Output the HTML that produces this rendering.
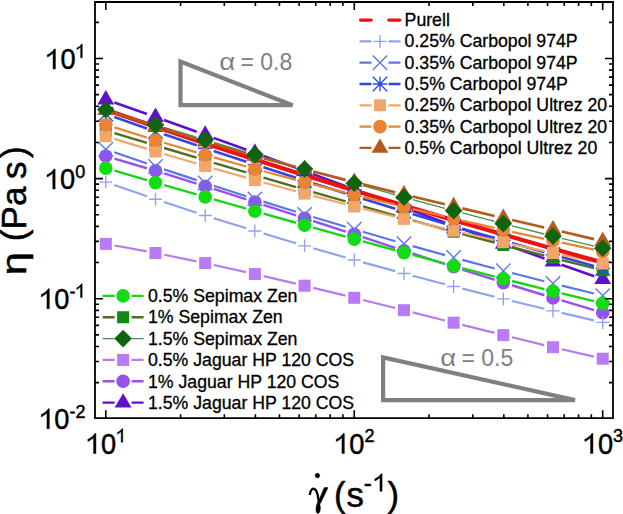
<!DOCTYPE html>
<html><head><meta charset="utf-8"><style>
html,body{margin:0;padding:0;background:#fff;}
body{width:623px;height:514px;overflow:hidden;}
svg{display:block;}
text{font-family:"Liberation Sans", sans-serif;}
</style></head><body>
<svg width="623" height="514" viewBox="0 0 623 514">
<rect width="623" height="514" fill="#fff"/>
<g font-size="17.7" fill="#000">
<path d="M360.50 20.10H371.20M388.70 20.10H399.80" stroke="#ee1111" stroke-width="3.2" stroke-linecap="round"/><text x="404.60" y="25.60" stroke="#000" stroke-width="0.3">Purell</text>
<path d="M359.50 41.40H371.50M388.50 41.40H400.50" stroke="#8ea2f0" stroke-width="2.2"/><path d="M373.50 41.40H386.50M380.00 34.90V47.90" stroke="#8ea2f0" stroke-width="1.35" fill="none"/><text x="404.60" y="47.05" stroke="#000" stroke-width="0.3">0.25% Carbopol 974P</text>
<path d="M359.50 62.70H371.50M388.50 62.70H400.50" stroke="#5a76ea" stroke-width="2.2"/><path d="M372.80 55.50L387.20 69.90M372.80 69.90L387.20 55.50" stroke="#5a76ea" stroke-width="1.35" fill="none"/><text x="404.60" y="68.50" stroke="#000" stroke-width="0.3">0.35% Carbopol 974P</text>
<path d="M359.50 84.00H371.50M388.50 84.00H400.50" stroke="#2e48e0" stroke-width="2.4"/><path d="M372.80 76.80L387.20 91.20M372.80 91.20L387.20 76.80M380.00 76.80V91.20M372.80 84.00H387.20" stroke="#2e48e0" stroke-width="1.35" fill="none"/><circle cx="380.00" cy="84.00" r="2" fill="#2e48e0"/><text x="404.60" y="89.95" stroke="#000" stroke-width="0.3">0.5% Carbopol 974P</text>
<path d="M359.50 105.30H371.50M388.50 105.30H400.50" stroke="#f2a66c" stroke-width="2.2"/><rect x="374.00" y="99.30" width="12.00" height="12.00" fill="#f2a66c"/><text x="404.60" y="111.40" stroke="#000" stroke-width="0.3">0.25% Carbopol Ultrez 20</text>
<path d="M359.50 126.60H371.50M388.50 126.60H400.50" stroke="#ea8434" stroke-width="2.2"/><circle cx="380.00" cy="126.60" r="6.80" fill="#ea8434"/><text x="404.60" y="132.85" stroke="#000" stroke-width="0.3">0.35% Carbopol Ultrez 20</text>
<path d="M359.50 147.90H371.50M388.50 147.90H400.50" stroke="#b45a1c" stroke-width="2.4"/><path d="M380.00 138.40L388.40 152.80L371.60 152.80Z" fill="#b45a1c"/><text x="404.60" y="154.30" stroke="#000" stroke-width="0.3">0.5% Carbopol Ultrez 20</text>
<path d="M102.60 295.90H114.60M131.60 295.90H143.60" stroke="#18d418" stroke-width="2.4"/><circle cx="123.10" cy="295.90" r="6.80" fill="#12dd12"/><text x="148.00" y="301.90" stroke="#000" stroke-width="0.3">0.5% Sepimax Zen</text>
<path d="M102.60 317.25H114.60M131.60 317.25H143.60" stroke="#4f6e1e" stroke-width="2.4"/><rect x="117.10" y="311.25" width="12.00" height="12.00" fill="#118a11"/><text x="148.00" y="323.32" stroke="#000" stroke-width="0.3">1% Sepimax Zen</text>
<path d="M102.60 338.60H114.60M131.60 338.60H143.60" stroke="#4a904a" stroke-width="1.3"/><path d="M123.10 329.80L131.90 338.60L123.10 347.40L114.30 338.60Z" fill="#0f640f"/><text x="148.00" y="344.74" stroke="#000" stroke-width="0.3">1.5% Sepimax Zen</text>
<path d="M102.60 359.95H114.60M131.60 359.95H143.60" stroke="#b87af0" stroke-width="2.2"/><rect x="117.10" y="353.95" width="12.00" height="12.00" fill="#b97af6"/><text x="148.00" y="366.16" stroke="#000" stroke-width="0.3">0.5% Jaguar HP 120 COS</text>
<path d="M102.60 381.30H114.60M131.60 381.30H143.60" stroke="#9652ea" stroke-width="2.4"/><circle cx="123.10" cy="381.30" r="6.80" fill="#9652ec"/><text x="148.00" y="387.58" stroke="#000" stroke-width="0.3">1% Jaguar HP 120 COS</text>
<path d="M102.60 402.65H114.60M131.60 402.65H143.60" stroke="#5f0fca" stroke-width="2.4"/><path d="M123.10 393.15L131.50 407.55L114.70 407.55Z" fill="#6010cc"/><text x="148.00" y="409.00" stroke="#000" stroke-width="0.3">1.5% Jaguar HP 120 COS</text>
</g>
<g>
<path d="M114.65 245.52L146.64 251.38M164.31 254.79L196.36 261.31M213.97 265.03L246.08 272.07M263.63 276.06L295.80 283.64M313.30 287.83L345.51 295.67M362.98 299.98L395.21 308.02M412.67 312.40L444.90 320.50M462.36 324.88L494.59 332.92M512.06 337.23L544.27 345.07M561.78 349.23L593.93 356.67" stroke="#b87af0" stroke-width="2.2" fill="none"/>
<path d="M114.43 158.57L146.86 168.23M164.09 173.46L196.58 183.54M213.76 188.93L246.29 199.27M263.43 204.79L296.00 215.41M313.12 220.99L345.69 231.61M362.80 237.21L395.39 247.89M412.50 253.47L445.07 264.03M462.21 269.53L494.74 279.87M511.92 285.25L544.41 295.25M561.64 300.47L594.07 310.13" stroke="#9652ea" stroke-width="2.4" fill="none"/>
<path d="M114.29 102.49L147.00 114.01M163.96 120.04L196.71 131.76M213.64 137.87L246.41 149.73M263.32 155.90L296.11 167.90M313.01 174.11L345.80 186.19M362.70 192.40L395.49 204.40M412.39 210.61L445.18 222.69M462.09 228.87L494.86 240.73M511.79 246.85L544.54 258.65M561.50 264.69L594.21 276.21" stroke="#5f0fca" stroke-width="2.6" fill="none"/>
<path d="M114.31 185.03L146.98 196.27M164.04 202.01L196.63 212.69M213.77 218.18L246.28 228.32M263.50 233.57L295.93 243.23M313.21 248.27L345.60 257.53M362.94 262.36L395.25 271.14M412.65 275.78L444.92 284.22M462.36 288.68L494.59 296.72M512.07 301.01L544.26 308.79M561.78 312.93L593.93 320.37" stroke="#8ea2f0" stroke-width="2.2" fill="none"/>
<path d="M114.31 152.33L146.98 163.57M164.03 169.34L196.64 180.16M213.75 185.76L246.30 196.24M263.47 201.66L295.96 211.74M313.18 216.99L345.63 226.71M362.89 231.81L395.30 241.19M412.61 246.11L444.96 255.09M462.32 259.83L494.63 268.47M512.04 273.03L544.29 281.27M561.75 285.63L593.96 293.47" stroke="#5a76ea" stroke-width="2.2" fill="none"/>
<path d="M114.44 170.62L146.85 180.08M164.14 185.09L196.53 194.41M213.83 199.39L246.22 208.71M263.53 213.64L295.90 222.76M313.23 227.62L345.58 236.68M362.94 241.46L395.25 250.24M412.63 254.93L444.94 263.57M462.34 268.16L494.61 276.54M512.05 281.00L544.28 289.10M561.76 293.41L593.95 301.19" stroke="#18d418" stroke-width="2.4" fill="none"/>
<path d="M114.42 133.09L146.87 142.81M164.11 147.99L196.56 157.71M213.81 162.85L246.24 172.45M263.50 177.54L295.93 187.06M313.21 192.09L345.60 201.41M362.91 206.36L395.28 215.54M412.62 220.39L444.95 229.31M462.32 234.03L494.63 242.67M512.03 247.26L544.30 255.64M561.75 260.06L593.96 268.04" stroke="#4f6e1e" stroke-width="2.4" fill="none"/>
<path d="M114.41 112.42L146.88 122.28M164.11 127.49L196.56 137.21M213.81 142.37L246.24 152.03M263.51 157.12L295.92 166.58M313.21 171.57L345.60 180.83M362.92 185.72L395.27 194.78M412.63 199.56L444.94 208.34M462.34 212.98L494.61 221.42M512.05 225.90L544.28 234.00M561.76 238.31L593.95 246.09" stroke="#4a904a" stroke-width="1.3" fill="none"/>
<path d="M114.30 117.06L146.99 128.44M164.02 134.28L196.65 145.32M213.73 151.02L246.32 161.78M263.44 167.36L295.99 177.84M313.15 183.30L345.66 193.50M362.86 198.83L395.33 208.77M412.57 213.97L445.00 223.63M462.27 228.71L494.68 238.09M511.98 243.06L544.35 252.24M561.69 257.08L594.02 265.92" stroke="#2e48e0" stroke-width="2.6" fill="none"/>
<path d="M114.40 138.85L146.89 148.85M164.12 154.04L196.55 163.56M213.84 168.54L246.21 177.66M263.56 182.46L295.87 191.24M313.27 195.86L345.54 204.24M362.98 208.68L395.21 216.72M412.70 220.98L444.87 228.62M462.40 232.71L494.55 240.09M512.11 244.03L544.22 251.07M561.82 254.86L593.89 261.64" stroke="#f2a66c" stroke-width="2.2" fill="none"/>
<path d="M105.80 109.80 L155.49 126.80 L205.18 143.40 L254.87 159.50 L304.56 175.30 L354.25 190.60 L403.94 205.60 L453.63 220.30 L503.32 234.60 L553.01 248.70 L602.70 262.50" stroke="#ee1111" stroke-width="4.2" fill="none" stroke-linejoin="round"/>
<path d="M114.39 127.38L146.90 137.52M164.12 142.75L196.55 152.35M213.84 157.34L246.21 166.46M263.56 171.23L295.87 179.87M313.28 184.41L345.53 192.59M362.99 196.93L395.20 204.77M412.70 208.96L444.87 216.54M462.41 220.60L494.54 227.90M512.11 231.83L544.22 238.87M561.81 242.69L593.90 249.61" stroke="#ea8434" stroke-width="2.2" fill="none"/>
<path d="M114.35 112.72L146.94 123.48M164.09 128.95L196.58 138.95M213.83 144.09L246.22 153.41M263.56 158.24L295.87 166.96M313.28 171.55L345.53 179.85M362.99 184.26L395.20 192.24M412.69 196.50L444.88 204.20M462.39 208.36L494.56 215.94M512.09 220.03L544.24 227.47M561.77 231.56L593.94 239.14" stroke="#b45a1c" stroke-width="2.6" fill="none"/>
<rect x="99.80" y="237.90" width="12.00" height="12.00" fill="#b97af6"/>
<rect x="149.49" y="247.00" width="12.00" height="12.00" fill="#b97af6"/>
<rect x="199.18" y="257.10" width="12.00" height="12.00" fill="#b97af6"/>
<rect x="248.87" y="268.00" width="12.00" height="12.00" fill="#b97af6"/>
<rect x="298.56" y="279.70" width="12.00" height="12.00" fill="#b97af6"/>
<rect x="348.25" y="291.80" width="12.00" height="12.00" fill="#b97af6"/>
<rect x="397.94" y="304.20" width="12.00" height="12.00" fill="#b97af6"/>
<rect x="447.63" y="316.70" width="12.00" height="12.00" fill="#b97af6"/>
<rect x="497.32" y="329.10" width="12.00" height="12.00" fill="#b97af6"/>
<rect x="547.01" y="341.20" width="12.00" height="12.00" fill="#b97af6"/>
<rect x="596.70" y="352.70" width="12.00" height="12.00" fill="#b97af6"/>
<circle cx="105.80" cy="156.00" r="6.80" fill="#9652ec"/>
<circle cx="155.49" cy="170.80" r="6.80" fill="#9652ec"/>
<circle cx="205.18" cy="186.20" r="6.80" fill="#9652ec"/>
<circle cx="254.87" cy="202.00" r="6.80" fill="#9652ec"/>
<circle cx="304.56" cy="218.20" r="6.80" fill="#9652ec"/>
<circle cx="354.25" cy="234.40" r="6.80" fill="#9652ec"/>
<circle cx="403.94" cy="250.70" r="6.80" fill="#9652ec"/>
<circle cx="453.63" cy="266.80" r="6.80" fill="#9652ec"/>
<circle cx="503.32" cy="282.60" r="6.80" fill="#9652ec"/>
<circle cx="553.01" cy="297.90" r="6.80" fill="#9652ec"/>
<circle cx="602.70" cy="312.70" r="6.80" fill="#9652ec"/>
<path d="M105.80 90.00L114.20 104.40L97.40 104.40Z" fill="#6010cc"/>
<path d="M155.49 107.50L163.89 121.90L147.09 121.90Z" fill="#6010cc"/>
<path d="M205.18 125.30L213.58 139.70L196.78 139.70Z" fill="#6010cc"/>
<path d="M254.87 143.30L263.27 157.70L246.47 157.70Z" fill="#6010cc"/>
<path d="M304.56 161.50L312.96 175.90L296.16 175.90Z" fill="#6010cc"/>
<path d="M354.25 179.80L362.65 194.20L345.85 194.20Z" fill="#6010cc"/>
<path d="M403.94 198.00L412.34 212.40L395.54 212.40Z" fill="#6010cc"/>
<path d="M453.63 216.30L462.03 230.70L445.23 230.70Z" fill="#6010cc"/>
<path d="M503.32 234.30L511.72 248.70L494.92 248.70Z" fill="#6010cc"/>
<path d="M553.01 252.20L561.41 266.60L544.61 266.60Z" fill="#6010cc"/>
<path d="M602.70 269.70L611.10 284.10L594.30 284.10Z" fill="#6010cc"/>
<path d="M99.30 182.10H112.30M105.80 175.60V188.60" stroke="#8ea2f0" stroke-width="1.35" fill="none"/>
<path d="M148.99 199.20H161.99M155.49 192.70V205.70" stroke="#8ea2f0" stroke-width="1.35" fill="none"/>
<path d="M198.68 215.50H211.68M205.18 209.00V222.00" stroke="#8ea2f0" stroke-width="1.35" fill="none"/>
<path d="M248.37 231.00H261.37M254.87 224.50V237.50" stroke="#8ea2f0" stroke-width="1.35" fill="none"/>
<path d="M298.06 245.80H311.06M304.56 239.30V252.30" stroke="#8ea2f0" stroke-width="1.35" fill="none"/>
<path d="M347.75 260.00H360.75M354.25 253.50V266.50" stroke="#8ea2f0" stroke-width="1.35" fill="none"/>
<path d="M397.44 273.50H410.44M403.94 267.00V280.00" stroke="#8ea2f0" stroke-width="1.35" fill="none"/>
<path d="M447.13 286.50H460.13M453.63 280.00V293.00" stroke="#8ea2f0" stroke-width="1.35" fill="none"/>
<path d="M496.82 298.90H509.82M503.32 292.40V305.40" stroke="#8ea2f0" stroke-width="1.35" fill="none"/>
<path d="M546.51 310.90H559.51M553.01 304.40V317.40" stroke="#8ea2f0" stroke-width="1.35" fill="none"/>
<path d="M596.20 322.40H609.20M602.70 315.90V328.90" stroke="#8ea2f0" stroke-width="1.35" fill="none"/>
<path d="M98.60 142.20L113.00 156.60M98.60 156.60L113.00 142.20" stroke="#5a76ea" stroke-width="1.35" fill="none"/>
<path d="M148.29 159.30L162.69 173.70M148.29 173.70L162.69 159.30" stroke="#5a76ea" stroke-width="1.35" fill="none"/>
<path d="M197.98 175.80L212.38 190.20M197.98 190.20L212.38 175.80" stroke="#5a76ea" stroke-width="1.35" fill="none"/>
<path d="M247.67 191.80L262.07 206.20M247.67 206.20L262.07 191.80" stroke="#5a76ea" stroke-width="1.35" fill="none"/>
<path d="M297.36 207.20L311.76 221.60M297.36 221.60L311.76 207.20" stroke="#5a76ea" stroke-width="1.35" fill="none"/>
<path d="M347.05 222.10L361.45 236.50M347.05 236.50L361.45 222.10" stroke="#5a76ea" stroke-width="1.35" fill="none"/>
<path d="M396.74 236.50L411.14 250.90M396.74 250.90L411.14 236.50" stroke="#5a76ea" stroke-width="1.35" fill="none"/>
<path d="M446.43 250.30L460.83 264.70M446.43 264.70L460.83 250.30" stroke="#5a76ea" stroke-width="1.35" fill="none"/>
<path d="M496.12 263.60L510.52 278.00M496.12 278.00L510.52 263.60" stroke="#5a76ea" stroke-width="1.35" fill="none"/>
<path d="M545.81 276.30L560.21 290.70M545.81 290.70L560.21 276.30" stroke="#5a76ea" stroke-width="1.35" fill="none"/>
<path d="M595.50 288.40L609.90 302.80M595.50 302.80L609.90 288.40" stroke="#5a76ea" stroke-width="1.35" fill="none"/>
<circle cx="105.80" cy="168.10" r="6.80" fill="#12dd12"/>
<circle cx="155.49" cy="182.60" r="6.80" fill="#12dd12"/>
<circle cx="205.18" cy="196.90" r="6.80" fill="#12dd12"/>
<circle cx="254.87" cy="211.20" r="6.80" fill="#12dd12"/>
<circle cx="304.56" cy="225.20" r="6.80" fill="#12dd12"/>
<circle cx="354.25" cy="239.10" r="6.80" fill="#12dd12"/>
<circle cx="403.94" cy="252.60" r="6.80" fill="#12dd12"/>
<circle cx="453.63" cy="265.90" r="6.80" fill="#12dd12"/>
<circle cx="503.32" cy="278.80" r="6.80" fill="#12dd12"/>
<circle cx="553.01" cy="291.30" r="6.80" fill="#12dd12"/>
<circle cx="602.70" cy="303.30" r="6.80" fill="#12dd12"/>
<rect x="99.80" y="124.50" width="12.00" height="12.00" fill="#118a11"/>
<rect x="149.49" y="139.40" width="12.00" height="12.00" fill="#118a11"/>
<rect x="199.18" y="154.30" width="12.00" height="12.00" fill="#118a11"/>
<rect x="248.87" y="169.00" width="12.00" height="12.00" fill="#118a11"/>
<rect x="298.56" y="183.60" width="12.00" height="12.00" fill="#118a11"/>
<rect x="348.25" y="197.90" width="12.00" height="12.00" fill="#118a11"/>
<rect x="397.94" y="212.00" width="12.00" height="12.00" fill="#118a11"/>
<rect x="447.63" y="225.70" width="12.00" height="12.00" fill="#118a11"/>
<rect x="497.32" y="239.00" width="12.00" height="12.00" fill="#118a11"/>
<rect x="547.01" y="251.90" width="12.00" height="12.00" fill="#118a11"/>
<rect x="596.70" y="264.20" width="12.00" height="12.00" fill="#118a11"/>
<path d="M98.60 106.90L113.00 121.30M98.60 121.30L113.00 106.90M105.80 106.90V121.30M98.60 114.10H113.00" stroke="#2e48e0" stroke-width="1.35" fill="none"/><circle cx="105.80" cy="114.10" r="2" fill="#2e48e0"/>
<path d="M148.29 124.20L162.69 138.60M148.29 138.60L162.69 124.20M155.49 124.20V138.60M148.29 131.40H162.69" stroke="#2e48e0" stroke-width="1.35" fill="none"/><circle cx="155.49" cy="131.40" r="2" fill="#2e48e0"/>
<path d="M197.98 141.00L212.38 155.40M197.98 155.40L212.38 141.00M205.18 141.00V155.40M197.98 148.20H212.38" stroke="#2e48e0" stroke-width="1.35" fill="none"/><circle cx="205.18" cy="148.20" r="2" fill="#2e48e0"/>
<path d="M247.67 157.40L262.07 171.80M247.67 171.80L262.07 157.40M254.87 157.40V171.80M247.67 164.60H262.07" stroke="#2e48e0" stroke-width="1.35" fill="none"/><circle cx="254.87" cy="164.60" r="2" fill="#2e48e0"/>
<path d="M297.36 173.40L311.76 187.80M297.36 187.80L311.76 173.40M304.56 173.40V187.80M297.36 180.60H311.76" stroke="#2e48e0" stroke-width="1.35" fill="none"/><circle cx="304.56" cy="180.60" r="2" fill="#2e48e0"/>
<path d="M347.05 189.00L361.45 203.40M347.05 203.40L361.45 189.00M354.25 189.00V203.40M347.05 196.20H361.45" stroke="#2e48e0" stroke-width="1.35" fill="none"/><circle cx="354.25" cy="196.20" r="2" fill="#2e48e0"/>
<path d="M396.74 204.20L411.14 218.60M396.74 218.60L411.14 204.20M403.94 204.20V218.60M396.74 211.40H411.14" stroke="#2e48e0" stroke-width="1.35" fill="none"/><circle cx="403.94" cy="211.40" r="2" fill="#2e48e0"/>
<path d="M446.43 219.00L460.83 233.40M446.43 233.40L460.83 219.00M453.63 219.00V233.40M446.43 226.20H460.83" stroke="#2e48e0" stroke-width="1.35" fill="none"/><circle cx="453.63" cy="226.20" r="2" fill="#2e48e0"/>
<path d="M496.12 233.40L510.52 247.80M496.12 247.80L510.52 233.40M503.32 233.40V247.80M496.12 240.60H510.52" stroke="#2e48e0" stroke-width="1.35" fill="none"/><circle cx="503.32" cy="240.60" r="2" fill="#2e48e0"/>
<path d="M545.81 247.50L560.21 261.90M545.81 261.90L560.21 247.50M553.01 247.50V261.90M545.81 254.70H560.21" stroke="#2e48e0" stroke-width="1.35" fill="none"/><circle cx="553.01" cy="254.70" r="2" fill="#2e48e0"/>
<path d="M595.50 261.10L609.90 275.50M595.50 275.50L609.90 261.10M602.70 261.10V275.50M595.50 268.30H609.90" stroke="#2e48e0" stroke-width="1.35" fill="none"/><circle cx="602.70" cy="268.30" r="2" fill="#2e48e0"/>
<rect x="99.80" y="130.20" width="12.00" height="12.00" fill="#f2a66c"/>
<rect x="149.49" y="145.50" width="12.00" height="12.00" fill="#f2a66c"/>
<rect x="199.18" y="160.10" width="12.00" height="12.00" fill="#f2a66c"/>
<rect x="248.87" y="174.10" width="12.00" height="12.00" fill="#f2a66c"/>
<rect x="298.56" y="187.60" width="12.00" height="12.00" fill="#f2a66c"/>
<rect x="348.25" y="200.50" width="12.00" height="12.00" fill="#f2a66c"/>
<rect x="397.94" y="212.90" width="12.00" height="12.00" fill="#f2a66c"/>
<rect x="447.63" y="224.70" width="12.00" height="12.00" fill="#f2a66c"/>
<rect x="497.32" y="236.10" width="12.00" height="12.00" fill="#f2a66c"/>
<rect x="547.01" y="247.00" width="12.00" height="12.00" fill="#f2a66c"/>
<rect x="596.70" y="257.50" width="12.00" height="12.00" fill="#f2a66c"/>
<circle cx="105.80" cy="124.70" r="6.80" fill="#ea8434"/>
<circle cx="155.49" cy="140.20" r="6.80" fill="#ea8434"/>
<circle cx="205.18" cy="154.90" r="6.80" fill="#ea8434"/>
<circle cx="254.87" cy="168.90" r="6.80" fill="#ea8434"/>
<circle cx="304.56" cy="182.20" r="6.80" fill="#ea8434"/>
<circle cx="354.25" cy="194.80" r="6.80" fill="#ea8434"/>
<circle cx="403.94" cy="206.90" r="6.80" fill="#ea8434"/>
<circle cx="453.63" cy="218.60" r="6.80" fill="#ea8434"/>
<circle cx="503.32" cy="229.90" r="6.80" fill="#ea8434"/>
<circle cx="553.01" cy="240.80" r="6.80" fill="#ea8434"/>
<circle cx="602.70" cy="251.50" r="6.80" fill="#ea8434"/>
<path d="M105.80 100.40L114.20 114.80L97.40 114.80Z" fill="#b45a1c"/>
<path d="M155.49 116.80L163.89 131.20L147.09 131.20Z" fill="#b45a1c"/>
<path d="M205.18 132.10L213.58 146.50L196.78 146.50Z" fill="#b45a1c"/>
<path d="M254.87 146.40L263.27 160.80L246.47 160.80Z" fill="#b45a1c"/>
<path d="M304.56 159.80L312.96 174.20L296.16 174.20Z" fill="#b45a1c"/>
<path d="M354.25 172.60L362.65 187.00L345.85 187.00Z" fill="#b45a1c"/>
<path d="M403.94 184.90L412.34 199.30L395.54 199.30Z" fill="#b45a1c"/>
<path d="M453.63 196.80L462.03 211.20L445.23 211.20Z" fill="#b45a1c"/>
<path d="M503.32 208.50L511.72 222.90L494.92 222.90Z" fill="#b45a1c"/>
<path d="M553.01 220.00L561.41 234.40L544.61 234.40Z" fill="#b45a1c"/>
<path d="M602.70 231.70L611.10 246.10L594.30 246.10Z" fill="#b45a1c"/>
<path d="M105.80 101.00L114.60 109.80L105.80 118.60L97.00 109.80Z" fill="#0f640f"/>
<path d="M155.49 116.10L164.29 124.90L155.49 133.70L146.69 124.90Z" fill="#0f640f"/>
<path d="M205.18 131.00L213.98 139.80L205.18 148.60L196.38 139.80Z" fill="#0f640f"/>
<path d="M254.87 145.80L263.67 154.60L254.87 163.40L246.07 154.60Z" fill="#0f640f"/>
<path d="M304.56 160.30L313.36 169.10L304.56 177.90L295.76 169.10Z" fill="#0f640f"/>
<path d="M354.25 174.50L363.05 183.30L354.25 192.10L345.45 183.30Z" fill="#0f640f"/>
<path d="M403.94 188.40L412.74 197.20L403.94 206.00L395.14 197.20Z" fill="#0f640f"/>
<path d="M453.63 201.90L462.43 210.70L453.63 219.50L444.83 210.70Z" fill="#0f640f"/>
<path d="M503.32 214.90L512.12 223.70L503.32 232.50L494.52 223.70Z" fill="#0f640f"/>
<path d="M553.01 227.40L561.81 236.20L553.01 245.00L544.21 236.20Z" fill="#0f640f"/>
<path d="M602.70 239.40L611.50 248.20L602.70 257.00L593.90 248.20Z" fill="#0f640f"/>
</g>
<path d="M95.0 2.0H613.0V418.2H95.0Z" stroke="#000" stroke-width="1.8" fill="none"/>
<path d="M105.80 418.20V410.20M105.80 2.00V10.00M180.59 418.20V414.20M180.59 2.00V6.00M224.34 418.20V414.20M224.34 2.00V6.00M255.38 418.20V414.20M255.38 2.00V6.00M279.46 418.20V414.20M279.46 2.00V6.00M299.13 418.20V414.20M299.13 2.00V6.00M315.76 418.20V414.20M315.76 2.00V6.00M330.17 418.20V414.20M330.17 2.00V6.00M342.88 418.20V414.20M342.88 2.00V6.00M354.25 418.20V410.20M354.25 2.00V10.00M429.04 418.20V414.20M429.04 2.00V6.00M472.79 418.20V414.20M472.79 2.00V6.00M503.83 418.20V414.20M503.83 2.00V6.00M527.91 418.20V414.20M527.91 2.00V6.00M547.58 418.20V414.20M547.58 2.00V6.00M564.21 418.20V414.20M564.21 2.00V6.00M578.62 418.20V414.20M578.62 2.00V6.00M591.33 418.20V414.20M591.33 2.00V6.00M602.70 418.20V410.20M602.70 2.00V10.00M95.00 382.65H99.00M613.00 382.65H609.00M95.00 361.50H99.00M613.00 361.50H609.00M95.00 346.49H99.00M613.00 346.49H609.00M95.00 334.85H99.00M613.00 334.85H609.00M95.00 325.34H99.00M613.00 325.34H609.00M95.00 317.30H99.00M613.00 317.30H609.00M95.00 310.34H99.00M613.00 310.34H609.00M95.00 304.20H99.00M613.00 304.20H609.00M95.00 298.70H103.00M613.00 298.70H605.00M95.00 262.55H99.00M613.00 262.55H609.00M95.00 241.40H99.00M613.00 241.40H609.00M95.00 226.39H99.00M613.00 226.39H609.00M95.00 214.75H99.00M613.00 214.75H609.00M95.00 205.24H99.00M613.00 205.24H609.00M95.00 197.20H99.00M613.00 197.20H609.00M95.00 190.24H99.00M613.00 190.24H609.00M95.00 184.10H99.00M613.00 184.10H609.00M95.00 178.60H103.00M613.00 178.60H605.00M95.00 142.45H99.00M613.00 142.45H609.00M95.00 121.30H99.00M613.00 121.30H609.00M95.00 106.29H99.00M613.00 106.29H609.00M95.00 94.65H99.00M613.00 94.65H609.00M95.00 85.14H99.00M613.00 85.14H609.00M95.00 77.10H99.00M613.00 77.10H609.00M95.00 70.14H99.00M613.00 70.14H609.00M95.00 64.00H99.00M613.00 64.00H609.00M95.00 58.50H103.00M613.00 58.50H605.00M95.00 22.35H99.00M613.00 22.35H609.00" stroke="#000" stroke-width="1.6" fill="none"/>
<g fill="#000" stroke="#000" stroke-width="0.45"><path transform="translate(45.30 69.00) scale(27.200 28.016)" d="M0.3726 0L0.2847 0L0.2847 -0.560C0.25 -0.528 0.16 -0.46 0.075 -0.425L0.075 -0.512C0.19 -0.555 0.28 -0.63 0.332 -0.716L0.3726 -0.716Z" stroke-width="0.0165"/><text transform="translate(60.42 69.00) scale(1 1.07)" font-size="27.2">0</text><path transform="translate(75.55 57.80) scale(18.000 19.260)" d="M0.3726 0L0.2847 0L0.2847 -0.560C0.25 -0.528 0.16 -0.46 0.075 -0.425L0.075 -0.512C0.19 -0.555 0.28 -0.63 0.332 -0.716L0.3726 -0.716Z" stroke-width="0.0250"/><path transform="translate(45.00 189.00) scale(27.200 28.016)" d="M0.3726 0L0.2847 0L0.2847 -0.560C0.25 -0.528 0.16 -0.46 0.075 -0.425L0.075 -0.512C0.19 -0.555 0.28 -0.63 0.332 -0.716L0.3726 -0.716Z" stroke-width="0.0165"/><text transform="translate(60.12 189.00) scale(1 1.07)" font-size="27.2">0</text><text transform="translate(75.25 177.80) scale(1 1.07)" font-size="18.0">0</text><path transform="translate(39.20 308.80) scale(27.200 28.016)" d="M0.3726 0L0.2847 0L0.2847 -0.560C0.25 -0.528 0.16 -0.46 0.075 -0.425L0.075 -0.512C0.19 -0.555 0.28 -0.63 0.332 -0.716L0.3726 -0.716Z" stroke-width="0.0165"/><text transform="translate(54.32 308.80) scale(1 1.07)" font-size="27.2">0</text><text transform="translate(69.45 297.60) scale(1 1.07)" font-size="18.0">-</text><path transform="translate(75.44 297.60) scale(18.000 19.260)" d="M0.3726 0L0.2847 0L0.2847 -0.560C0.25 -0.528 0.16 -0.46 0.075 -0.425L0.075 -0.512C0.19 -0.555 0.28 -0.63 0.332 -0.716L0.3726 -0.716Z" stroke-width="0.0250"/><path transform="translate(39.20 428.80) scale(27.200 28.016)" d="M0.3726 0L0.2847 0L0.2847 -0.560C0.25 -0.528 0.16 -0.46 0.075 -0.425L0.075 -0.512C0.19 -0.555 0.28 -0.63 0.332 -0.716L0.3726 -0.716Z" stroke-width="0.0165"/><text transform="translate(54.32 428.80) scale(1 1.07)" font-size="27.2">0</text><text transform="translate(69.45 417.60) scale(1 1.07)" font-size="18.0">-</text><text transform="translate(75.44 417.60) scale(1 1.07)" font-size="18.0">2</text><path transform="translate(85.80 453.50) scale(27.200 28.016)" d="M0.3726 0L0.2847 0L0.2847 -0.560C0.25 -0.528 0.16 -0.46 0.075 -0.425L0.075 -0.512C0.19 -0.555 0.28 -0.63 0.332 -0.716L0.3726 -0.716Z" stroke-width="0.0165"/><text transform="translate(100.92 453.50) scale(1 1.07)" font-size="27.2">0</text><path transform="translate(116.05 442.30) scale(18.000 19.260)" d="M0.3726 0L0.2847 0L0.2847 -0.560C0.25 -0.528 0.16 -0.46 0.075 -0.425L0.075 -0.512C0.19 -0.555 0.28 -0.63 0.332 -0.716L0.3726 -0.716Z" stroke-width="0.0250"/><path transform="translate(334.20 453.50) scale(27.200 28.016)" d="M0.3726 0L0.2847 0L0.2847 -0.560C0.25 -0.528 0.16 -0.46 0.075 -0.425L0.075 -0.512C0.19 -0.555 0.28 -0.63 0.332 -0.716L0.3726 -0.716Z" stroke-width="0.0165"/><text transform="translate(349.32 453.50) scale(1 1.07)" font-size="27.2">0</text><text transform="translate(364.45 442.30) scale(1 1.07)" font-size="18.0">2</text><path transform="translate(582.80 453.50) scale(27.200 28.016)" d="M0.3726 0L0.2847 0L0.2847 -0.560C0.25 -0.528 0.16 -0.46 0.075 -0.425L0.075 -0.512C0.19 -0.555 0.28 -0.63 0.332 -0.716L0.3726 -0.716Z" stroke-width="0.0165"/><text transform="translate(597.92 453.50) scale(1 1.07)" font-size="27.2">0</text><text transform="translate(613.05 442.30) scale(1 1.07)" font-size="18.0">3</text></g>
<g fill="#000" font-size="35" stroke="#000" stroke-width="0.5">
<g transform="translate(25.7 0) rotate(-90)">
<text transform="translate(-275 0) scale(1.18 1)">η</text>
<text x="-241.3" y="0">(</text>
<text x="-229.4" y="0">Pa</text>
<text x="-179" y="0">s</text>
<text x="-158" y="0">)</text>
</g>
<path d="M309.8 495C310.2 489.5 313.2 487.2 315.6 489.8C317.2 491.5 318.2 497 319 503" stroke="#000" stroke-width="2.3" fill="none"/><path d="M324.3 487.6L328 487.6L320.6 503.2L317.6 503.2Z"/><path d="M318.6 501C321 505 321 513 318 513.5C315 513 315.5 505 318.6 501Z"/>
<text x="334.1" y="506.5" font-size="34.7">(</text>
<text x="346.4" y="506.5" font-size="34.7">s</text>
<text x="363.8" y="491.3" font-size="24.4">-</text>
<path transform="translate(373.00 491.30) scale(24.400 24.400)" d="M0.3726 0L0.2847 0L0.2847 -0.560C0.25 -0.528 0.16 -0.46 0.075 -0.425L0.075 -0.512C0.19 -0.555 0.28 -0.63 0.332 -0.716L0.3726 -0.716Z" stroke-width="0.0184"/>
<text x="387.5" y="506.5" font-size="34.7">)</text>
<circle cx="317.4" cy="475.6" r="2.3"/>
</g>

<g stroke="#808080" stroke-width="4.2" fill="none" stroke-linejoin="miter">
<path d="M180.5 61.6V105.2H292.5Z"/>
<path d="M383.1 357.4V400.1H575Z"/>
</g>
<g fill="#808080" font-size="23">
<text transform="translate(219.3 70.3) scale(1.2 1.0)">α</text>
<text transform="translate(240.5 70.3) scale(1 1.05)">= 0.8</text>
<text transform="translate(440.3 366.4) scale(1.2 1.0)">α</text>
<text transform="translate(461.5 366.4) scale(1 1.05)">= 0.5</text>
</g>
</svg>
</body></html>
